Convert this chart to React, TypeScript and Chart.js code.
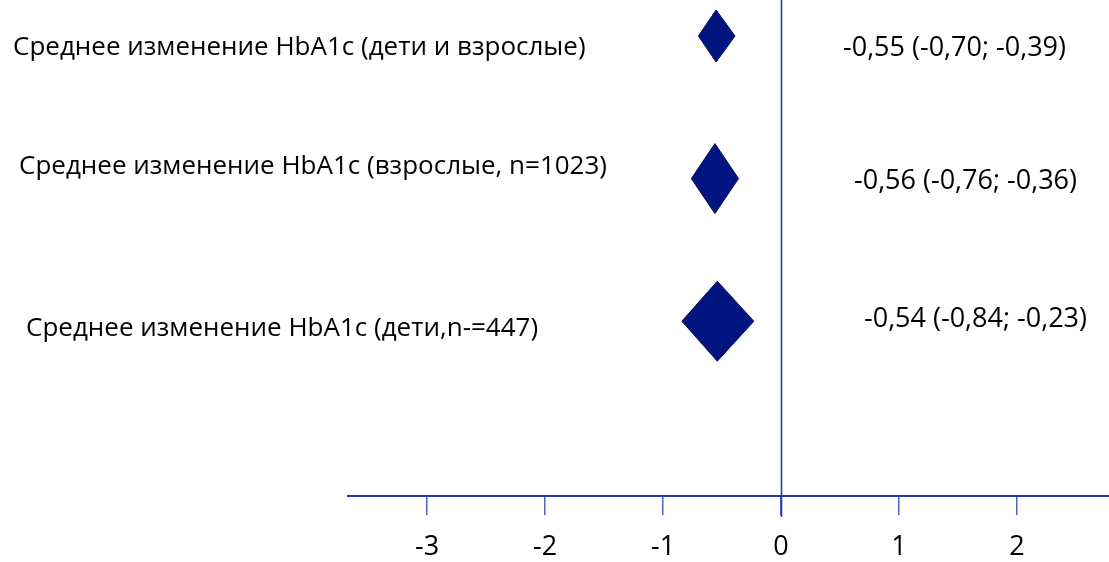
import { useEffect, useRef } from "react";
import { Chart, registerables } from "chart.js";

Chart.register(...registerables);

// Outcomes (rows, top to bottom)
const OUTCOMES = [
  "Среднее изменение HbA1c (дети и взрослые)",
  "Среднее изменение HbA1c (взрослые, n=1023)",
  "Среднее изменение HbA1c (дети,n-=447)",
];
// Mean difference and 95% CI bounds
const MEAN_DIFF = [-0.55, -0.56, -0.54];
const CI_LOWER = [-0.7, -0.76, -0.84];
const CI_UPPER = [-0.39, -0.36, -0.23];
// X-axis tick values
const X_TICKS = [-3, -2, -1, 0, 1, 2];
const X_MIN = -3.67;
const X_MAX = 2.78;

// Layout / style constants
const FONT = "'Open Sans', sans-serif";
const OUTCOME_SIZE = 26;
const CI_SIZE = 27;
const TICK_SIZE = 27;
const AXIS_BLUE = "#2a39a6";
const TICK_BLUE = "#5563bf";
const DIAMOND_FILL = "#00157f";
const DIAMOND_EDGE = "#000c5c";
const DIAMOND_HALF_HEIGHT = [26, 35, 40];
const LEFT_LABEL_X = [13, 19, 26];
const LEFT_LABEL_DY = [19, -5, 15];
const RIGHT_LABEL_OFFSET = [62, 73, 83];
const RIGHT_LABEL_DY = [20, 10, 6];

const fmt = (v: number) => v.toFixed(2).replace(".", ",");
const ciText = (i: number) =>
  `${fmt(MEAN_DIFF[i])} (${fmt(CI_LOWER[i])}; ${fmt(CI_UPPER[i])})`;

const forestPlugin = {
  id: "forest",
  beforeDatasetsDraw(chart: any) {
    const { ctx, scales, chartArea } = chart;
    const x0 = Math.round(scales.x.getPixelForValue(0)) + 0.5;
    ctx.save();
    ctx.strokeStyle = AXIS_BLUE;
    ctx.lineWidth = 1.6;
    ctx.beginPath();
    ctx.moveTo(x0, 0);
    ctx.lineTo(x0, chartArea.bottom + 21);
    ctx.stroke();
    ctx.restore();
  },
  afterDatasetsDraw(chart: any) {
    const { ctx, scales } = chart;
    const xs = scales.x;
    const ys = scales.y;
    const x0 = xs.getPixelForValue(0);
    ctx.save();
    MEAN_DIFF.forEach((m, i) => {
      const yc = ys.getPixelForValue(i);
      const xc = xs.getPixelForValue(m);
      const xl = xs.getPixelForValue(CI_LOWER[i]);
      const xr = xs.getPixelForValue(CI_UPPER[i]);
      const h = DIAMOND_HALF_HEIGHT[i];
      ctx.beginPath();
      ctx.moveTo(xc, yc - h);
      ctx.lineTo(xr, yc);
      ctx.lineTo(xc, yc + h);
      ctx.lineTo(xl, yc);
      ctx.closePath();
      ctx.fillStyle = DIAMOND_FILL;
      ctx.fill();
      ctx.strokeStyle = DIAMOND_EDGE;
      ctx.lineWidth = 1;
      ctx.stroke();

      ctx.fillStyle = "#000000";
      ctx.textBaseline = "alphabetic";
      ctx.textAlign = "left";
      ctx.font = `${OUTCOME_SIZE}px ${FONT}`;
      ctx.fillText(OUTCOMES[i], LEFT_LABEL_X[i], yc + LEFT_LABEL_DY[i]);
      ctx.font = `${CI_SIZE}px ${FONT}`;
      ctx.fillText(ciText(i), x0 + RIGHT_LABEL_OFFSET[i], yc + RIGHT_LABEL_DY[i]);
    });
    ctx.restore();
  },
};

export default function App() {
  const canvasRef = useRef<HTMLCanvasElement | null>(null);

  useEffect(() => {
    if (!canvasRef.current) return;
    const chart = new Chart(canvasRef.current, {
      type: "scatter",
      data: {
        datasets: [
          {
            data: MEAN_DIFF.map((m, i) => ({ x: m, y: i })),
            pointRadius: 0,
            pointHoverRadius: 0,
          },
        ],
      },
      options: {
        animation: false,
        responsive: false,
        devicePixelRatio: 1,
        layout: { padding: { left: 348, right: 0, top: 0, bottom: 0 } },
        plugins: {
          legend: { display: false },
          tooltip: { enabled: false },
        },
        scales: {
          x: {
            type: "linear",
            min: X_MIN,
            max: X_MAX,
            afterBuildTicks: (s: any) => {
              s.ticks = X_TICKS.map((v) => ({ value: v }));
            },
            afterFit: (s: any) => {
              s.height = 66;
            },
            border: { display: true, color: AXIS_BLUE, width: 2 },
            grid: {
              display: true,
              drawOnChartArea: false,
              drawTicks: true,
              tickLength: 19,
              color: TICK_BLUE,
              lineWidth: 1.5,
            },
            ticks: {
              color: "#000000",
              font: { family: FONT, size: TICK_SIZE },
              padding: 16,
              maxRotation: 0,
              autoSkip: false,
            },
          },
          y: {
            type: "linear",
            display: false,
            reverse: true,
            min: -0.2526,
            max: 3.226,
          },
        },
      },
      plugins: [forestPlugin],
    });
    return () => chart.destroy();
  }, []);

  return (
    <div style={{ position: "fixed", left: 0, top: 0, width: 1109, height: 562, background: "#ffffff" }}>
      <canvas ref={canvasRef} width={1109} height={562} />
    </div>
  );
}
